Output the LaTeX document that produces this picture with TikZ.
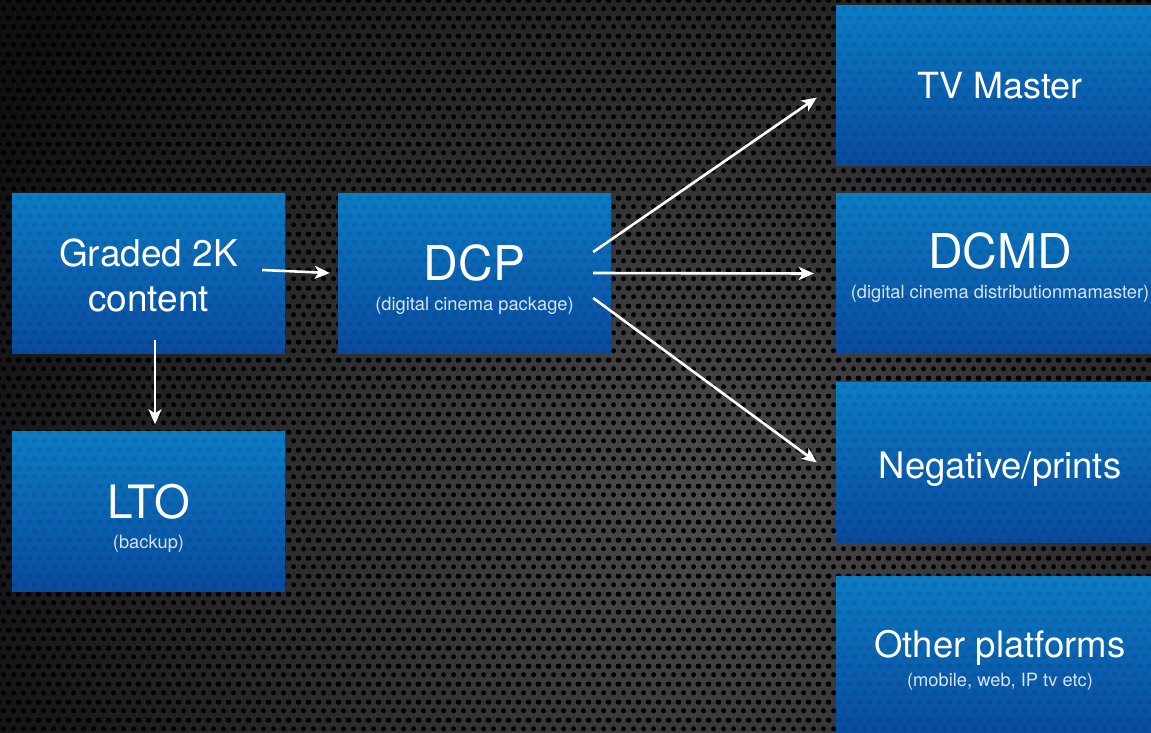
\documentclass[tikz,border=0pt]{standalone}
\usepackage{fontspec}
\setmainfont{TeX Gyre Heros}
\usepackage{xcolor}
\usetikzlibrary{arrows.meta,patterns.meta}

\definecolor{boxtop}{RGB}{12,124,196}
\definecolor{boxbot}{RGB}{9,74,158}
\definecolor{bgin}{RGB}{76,76,78}
\definecolor{bgout}{RGB}{16,16,18}
\definecolor{subtxt}{RGB}{214,228,242}

\newcommand{\subfont}{\fontsize{18.3}{30}\selectfont\color{subtxt}}

\tikzdeclarepattern{
  name=holes,
  type=uncolored,
  bounding box={(0pt,0pt) and (10pt,18pt)},
  tile size={(10pt,18pt)},
  code={
    \fill (5pt,4.5pt) circle (2.7pt);
    \fill (0pt,13.5pt) circle (2.7pt);
    \fill (10pt,13.5pt) circle (2.7pt);
  }
}

\begin{document}
\begin{tikzpicture}[x=1pt,y=-1pt,
  box/.style={rectangle, minimum width=273pt, minimum height=160pt, inner sep=0pt,
    top color=boxtop, bottom color=boxbot, text=white, align=center,
    postaction={pattern=holes, pattern color=black, fill opacity=0.08}},
  wide/.style={box, minimum width=328pt},
  flow/.style={draw=white, line width=2.6pt, -{Stealth[length=15pt,width=13pt,inset=4pt]}}]
\useasboundingbox (0,0) rectangle (1151,733);
\clip (0,0) rectangle (1151,733);

% background
\shade [inner color=bgin, outer color=bgout] (-100,-300) rectangle (1500,1300);
\fill [pattern=holes, pattern color=black] (0,0) rectangle (1151,733);

% left-hand boxes
\node [box, font=\fontsize{37}{45}\selectfont] (grad) at (148.5,273) {\rule{0pt}{33pt}Graded 2K\\content};
\node [box, font=\fontsize{46}{30}\selectfont] (lto) at (148.5,511.5) {\rule{0pt}{47pt}LTO\\\subfont (backup)};

% middle box
\node [box, font=\fontsize{48}{30}\selectfont] (dcp) at (474.5,273) {\rule{0pt}{48pt}DCP\\\subfont (digital cinema package)};

% right-hand boxes
\node [wide, font=\fontsize{36}{30}\selectfont] (tv) at (1000,85.5) {TV Master};
\node [wide, font=\fontsize{48}{30}\selectfont] (dcmd) at (1000,273.5) {DCMD\\\subfont (digital cinema distributionmamaster)\rule[-15.5pt]{0pt}{0pt}};
\node [wide, font=\fontsize{36.5}{30}\selectfont] (neg) at (1000,462.5) {\rule{0pt}{40pt}Negative/prints};
\node [wide, font=\fontsize{36.5}{29}\selectfont] (other) at (1000,656) {\rule{0pt}{35.5pt}Other platforms\\\subfont (mobile, web, IP tv etc)};

% arrows
\draw [flow] ([shift={(-23,-3)}]grad.east) -- ([shift={(-8,0)}]dcp.west);
\draw [flow] ([shift={(6.5,-13)}]grad.south) -- ([shift={(6.5,-7)}]lto.north);
\draw [flow] ([shift={(-18,-21)}]dcp.east) -- ([shift={(-19,12)}]tv.west);
\draw [flow] ([shift={(-18,0)}]dcp.east) -- ([shift={(-22,0)}]dcmd.west);
\draw [flow] ([shift={(-18,25)}]dcp.east) -- ([shift={(-19,0)}]neg.west);
\end{tikzpicture}
\end{document}
